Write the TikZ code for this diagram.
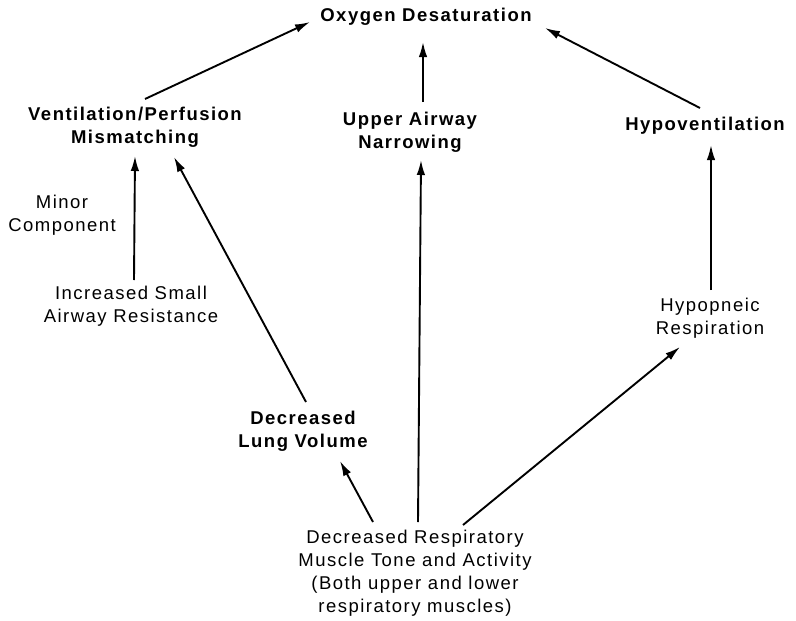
\documentclass[tikz,border=0pt]{standalone}
\usepackage{fontspec}
\newfontfamily\dfont[LetterSpace=8]{Liberation Sans}
\usetikzlibrary{arrows.meta}
\tikzset{
  lbl/.style={align=center, inner sep=0pt, font={\dfont\fontsize{18.5}{23}\selectfont}},
  blbl/.style={lbl, font={\dfont\bfseries\fontsize{18.5}{23}\selectfont}},
  arr/.style={line width=1.9pt, -{Latex[length=15pt,width=8.5pt]}}
}
\begin{document}
\begin{tikzpicture}[x=1pt,y=-1pt]
\useasboundingbox (0,0) rectangle (796,621);
\node[blbl] (ox) at (426,17) {Oxygen Desaturation};
\node[blbl] (vp) at (135,127) {Ventilation/Perfusion\\Mismatching};
\node[blbl] (ua) at (410,132) {Upper Airway\\Narrowing};
\node[blbl] (hv) at (705,126) {Hypoventilation};
\node[lbl] (mc) at (62,215) {Minor\\Component};
\node[lbl] (isar) at (131,306) {Increased Small\\Airway Resistance};
\node[lbl] (hr) at (710,318) {Hypopneic\\Respiration};
\node[blbl] (dlv) at (303,431) {Decreased\\Lung Volume};
\node[lbl] (bot) at (415,573) {Decreased Respiratory\\Muscle Tone and Activity\\(Both upper and lower\\respiratory muscles)};
% connectors
\draw[arr] ([shift={(10,-28)}]vp.center) -- ([shift={(-116,5)}]ox.center);
\draw[arr] ([shift={(13,-30)}]ua.center) -- ([shift={(-3,25)}]ox.center);
\draw[arr] ([shift={(-5,-18)}]hv.center) -- ([shift={(119,11)}]ox.center);
\draw[arr] ([shift={(3,-26)}]isar.center) -- ([shift={(0,29)}]vp.center);
\draw[arr] ([shift={(3,-29)}]dlv.center) -- ([shift={(39,30)}]vp.center);
\draw[arr] ([shift={(3,-51)}]bot.center) -- ([shift={(11,28)}]ua.center);
\draw[arr] ([shift={(-42,-51)}]bot.center) -- ([shift={(37,30)}]dlv.center);
\draw[arr] ([shift={(48,-48)}]bot.center) -- ([shift={(-30,29)}]hr.center);
\draw[arr] ([shift={(1,-28)}]hr.center) -- ([shift={(6,19)}]hv.center);
\end{tikzpicture}
\end{document}
